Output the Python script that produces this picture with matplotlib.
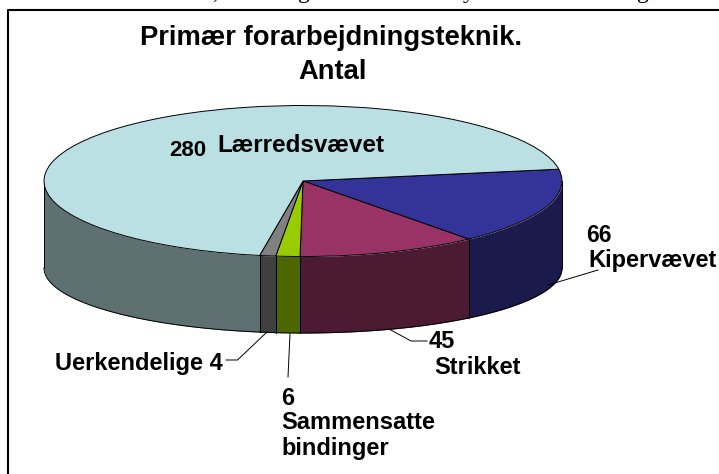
import numpy as np
import matplotlib
matplotlib.use("Agg")
import matplotlib.pyplot as plt
from matplotlib.lines import Line2D

W, H = 719, 474

names = ["Kipervævet", "Strikket", "Sammensatte\nbindinger", "Uerkendelige", "Lærredsvævet"]
values = [66, 45, 6, 4, 280]
top_colors = ["#333399", "#993366", "#99CC00", "#808080", "#BBE0E3"]
side_colors = ["#1A1A4D", "#4D1A33", "#4D6600", "#404040", "#5E7072"]
start_angle = 9

# letters of the cropped line above the frame, only the descenders show
cropped_chars = [",", "g", "y", "g"]
cropped_x = [212, 298, 463, 637]

# pie geometry in pixels of the picture
cx, cy = 303, 181
rx, ry = 259, 75.5
# the bottom rim is flatter than the top one
bottom_cy, bottom_ry = 268, 65

plt.rcParams["font.family"] = ["Liberation Sans", "DejaVu Sans"]
plt.rcParams["font.weight"] = "bold"

fig = plt.figure(figsize=(W / 100, H / 100), dpi=100)
ax = fig.add_axes([0, 0, 1, 1])

ax.pie(values, startangle=start_angle, counterclock=False, radius=1,
       colors=top_colors,
       wedgeprops={"edgecolor": "black", "linewidth": 0.7, "zorder": 3})

# side wall of the cylinder, only the part facing the viewer
ang = start_angle
for val, col in zip(values, side_colors):
    a0, a1 = ang, ang - val / sum(values) * 360
    ang = a1
    lo, hi = max(a1, -180), min(a0, 0)
    if lo >= hi:
        continue
    t = np.radians(np.linspace(lo, hi, 80))
    x = np.cos(t)
    y = np.sin(t)
    yb = (cy - bottom_cy + np.sin(t) * bottom_ry) / ry
    ax.fill_between(x, y, yb, color=col, linewidth=0, zorder=1)
    ax.plot(x, yb, color="black", lw=0.7, zorder=2)
    ax.plot([x[0], x[0]], [y[0], yb[0]], color="black", lw=0.7, zorder=2)
    ax.plot([x[-1], x[-1]], [y[-1], yb[-1]], color="black", lw=0.7, zorder=2)

ax.set_aspect("auto")
ax.set_xlim(-cx / rx, (W - cx) / rx)
ax.set_ylim((cy - H) / ry, cy / ry)
ax.axis("off")


# y is the text baseline, in pixels from the top
def label(x, y, s, size=17, **kw):
    fig.text(x / W, 1 - y / H, s, fontsize=size, fontweight="bold", color="black",
             va="baseline", **kw)


def leader(xs, ys, lw=0.7):
    fig.add_artist(Line2D([v / W for v in xs], [1 - v / H for v in ys],
                          color="black", lw=lw))


# frame, open to the right and at the bottom
leader([8, 8, W], [H, 10, 10], lw=1.5)

for ch, xc in zip(cropped_chars, cropped_x):
    fig.text(xc / W, 1 + 2 / H, ch, fontsize=17, family="Liberation Serif",
             fontweight="normal", color="black", va="baseline")

label(331, 45, "Primær forarbejdningsteknik.", size=19.7, ha="center")
label(333, 79, "Antal", size=19.7, ha="center")

label(169, 156, str(values[4]), size=16)
label(217, 152, names[4], size=17.5)
label(586, 242, str(values[0]), size=16.5)
label(588, 267, names[0], size=17)
label(429, 348, str(values[1]))
label(434, 374, names[1])
label(55, 370, names[3] + " " + str(values[3]))
label(281, 405, str(values[2]))
label(281, 429, names[2].split("\n")[0])
label(281, 455, names[2].split("\n")[1])

leader([548, 598], [285, 270])
leader([389, 411, 427], [329, 341, 341])
leader([267, 237.5, 226], [332, 360, 360])
leader([290, 288], [334, 377])

fig.savefig("out.png", dpi=100)
